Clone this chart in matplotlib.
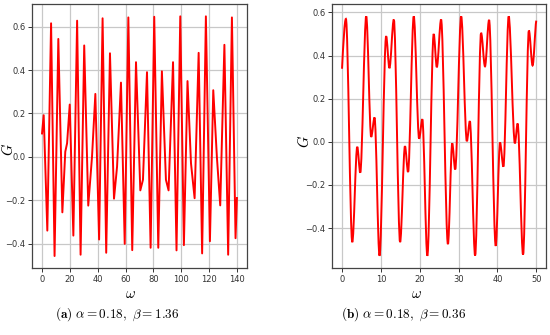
import matplotlib
matplotlib.use('Agg')
import matplotlib.pyplot as plt
from matplotlib.path import Path
from matplotlib.patches import PathPatch

# panel (a): alpha = 0.18, beta = 1.36  (peaks, troughs and shoulders)
omega_a = [0, 1.2, 3.8, 6.5, 9.0, 11.7, 14.6, 16.7, 18.0, 19.9, 22.5, 25.2, 27.7, 30.3,
           33.2, 35.9, 38.3, 41.0, 43.5, 46.1, 48.8, 51.7, 53.9, 56.7, 59.4, 62.0, 64.8,
           67.5, 70.6, 72.5, 75.4, 78.0, 80.6, 83.5, 86.1, 89.0, 90.9, 94.1, 96.6, 99.3,
           101.9, 104.5, 107.0, 109.6, 112.5, 115.0, 117.7, 120.6, 123.0, 125.6, 128.0,
           131.0, 133.7, 136.4, 139.0, 140.0]
G_a = [0.108, 0.192, -0.339, 0.615, -0.456, 0.543, -0.255, 0.024, 0.063, 0.241, -0.362,
       0.627, -0.450, 0.513, -0.224, 0.000, 0.290, -0.380, 0.638, -0.441, 0.477, -0.192,
       -0.044, 0.342, -0.400, 0.642, -0.429, 0.436, -0.154, -0.105, 0.390, -0.418, 0.645,
       -0.418, 0.394, -0.105, -0.154, 0.436, -0.430, 0.647, -0.406, 0.349, -0.029, -0.190,
       0.479, -0.444, 0.647, -0.388, 0.307, 0.000, -0.223, 0.516, -0.450, 0.642, -0.374,
       -0.189]

# panel (b): alpha = 0.18, beta = 0.36  (start, extrema, end)
omega_b = [0, 1.0, 2.64, 3.92, 4.69, 6.23, 7.51, 8.37, 9.65, 11.36, 12.2, 13.33, 14.95,
           16.2, 17.0, 18.46, 19.85, 20.67, 21.96, 23.6, 24.4, 25.5, 27.26, 28.37, 29.13,
           30.67, 32.13, 32.9, 34.26, 35.8, 36.8, 37.85, 39.56, 40.67, 41.54, 42.9, 44.5,
           45.2, 46.6, 48.1, 49.05, 50.0]
G_b = [0.339, 0.570, -0.465, -0.023, -0.143, 0.582, 0.023, 0.113, -0.528, 0.490, 0.342,
       0.567, -0.465, -0.020, -0.140, 0.582, 0.015, 0.105, -0.528, 0.500, 0.346, 0.567,
       -0.474, -0.007, -0.128, 0.582, 0.003, 0.096, -0.527, 0.505, 0.350, 0.565, -0.482,
       -0.003, -0.115, 0.582, -0.007, 0.085, -0.523, 0.516, 0.354, 0.562]

xticks_a = [0, 20, 40, 60, 80, 100, 120, 140]
xticks_b = [0, 10, 20, 30, 40, 50]
yticks = [-0.4, -0.2, 0.0, 0.2, 0.4, 0.6]

plt.rcParams['mathtext.fontset'] = 'cm'


def smooth_path(xs, ys):
    # cubic segments with flat tangents at the extrema
    verts = [(xs[0], ys[0])]
    codes = [Path.MOVETO]
    n = len(xs)
    for i in range(n - 1):
        x0, y0, x1, y1 = xs[i], ys[i], xs[i + 1], ys[i + 1]
        d = x1 - x0
        c1y = y0 + (y1 - y0) * 0.5 if i == 0 else y0
        c2y = y1 - (y1 - y0) * 0.15 if i == n - 2 else y1
        verts += [(x0 + d / 3, c1y), (x1 - d / 3, c2y), (x1, y1)]
        codes += [Path.CURVE4] * 3
    return Path(verts, codes)


def style(ax, xticks, xlab_x):
    ax.set_xticks(xticks)
    ax.set_yticks(yticks)
    ax.grid(True, color='#c8c8c8', lw=0.9)
    ax.set_axisbelow(True)
    for s in ax.spines.values():
        s.set_color('#444444')
        s.set_linewidth(0.9)
    ax.tick_params(labelsize=6, colors='#333333', length=3, width=0.7, pad=2)
    ax.set_xlabel(r'$\omega$', fontsize=10.5)
    ax.set_ylabel(r'$G$', fontsize=10.5)
    ax.xaxis.set_label_coords(xlab_x, -0.07)


fig = plt.figure(figsize=(5.5, 3.35), dpi=100)
ax1 = fig.add_axes([0.0587, 0.2, 0.3898, 0.787])
ax2 = fig.add_axes([0.6042, 0.2009, 0.3885, 0.7861])

ax1.plot(omega_a, G_a, color='red', lw=1.4)
style(ax1, xticks_a, 0.46)
ax1.yaxis.set_label_coords(-0.075, 0.45)

ax2.add_patch(PathPatch(smooth_path(omega_b, G_b), facecolor='none', edgecolor='red', lw=1.4))
ax2.autoscale_view()
style(ax2, xticks_b, 0.396)
ax2.yaxis.set_label_coords(-0.095, 0.48)

fig.text(0.2136, 0.062, r'$\mathbf{(a)}\ \alpha = 0.18,\ \beta = 1.36$', ha='center', va='center', fontsize=9.5)
fig.text(0.733, 0.062, r'$\mathbf{(b)}\ \alpha = 0.18,\ \beta = 0.36$', ha='center', va='center', fontsize=9.5)

fig.savefig('out.png', dpi=100)
